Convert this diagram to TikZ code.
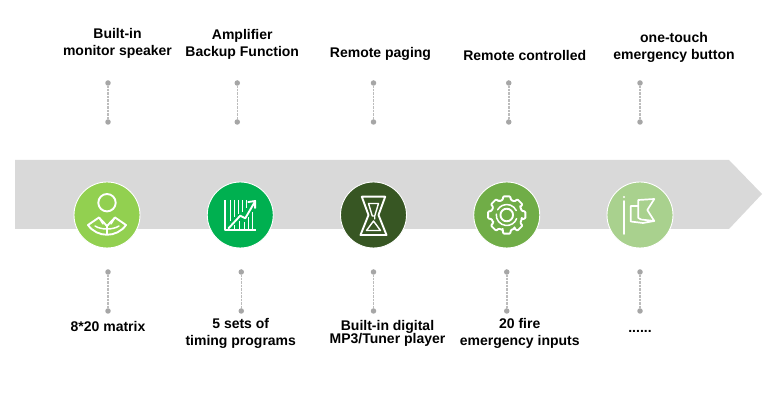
\documentclass[tikz,border=0pt]{standalone}
\usepackage{fontspec}
\setmainfont{Liberation Sans}
\usepackage{xcolor}
\usetikzlibrary{calc,arrows.meta,shapes}
\definecolor{bandgray}{HTML}{D9D9D9}
\definecolor{dotgray}{HTML}{A6A6A6}
\definecolor{limegreen}{HTML}{92D050}
\definecolor{puregreen}{HTML}{00B050}
\definecolor{darkgreen}{HTML}{375623}
\definecolor{midgreen}{HTML}{70AD47}
\definecolor{palegreen}{HTML}{A9D18E}

\begin{document}
\begin{tikzpicture}[
    x=1pt, y=1pt,
    node distance=133.25pt,
    hub/.style={circle, draw=white, line width=0.9pt, minimum size=66pt, inner sep=0pt},
    pin/.style={circle, fill=dotgray, minimum size=5.5pt, inner sep=0pt},
    stem/.style={dotgray!75, line width=1.5pt, dash pattern=on 1pt off 0.4pt},
    caption/.style={align=center, inner sep=0pt, font=\fontsize{14}{17}\selectfont\bfseries},
    icon/.style={white, line width=1.9pt, line join=round, line cap=round}
]
\useasboundingbox (0,0) rectangle (780,407);

% Band
\fill[bandgray] (15,247) -- (729,247) -- (762,213) -- (729,178) -- (15,178) -- cycle;

% Hubs
\node[hub, fill=limegreen] (person) at (107,192) {};
\node[hub, fill=puregreen, right of=person] (chart) {};
\node[hub, fill=darkgreen, right of=chart] (glass) {};
\node[hub, fill=midgreen, right of=glass] (gear) {};
\node[hub, fill=palegreen, right of=gear] (flag) {};

% Upper pins
\node[pin, above of=person, node distance=93pt, xshift=1pt] (personlow) {};
\node[pin, above of=personlow, node distance=39pt] (personhigh) {};
\node[pin, above of=chart, node distance=93pt, xshift=-3pt] (chartlow) {};
\node[pin, above of=chartlow, node distance=39pt] (charthigh) {};
\node[pin, above of=glass, node distance=93pt] (glasslow) {};
\node[pin, above of=glasslow, node distance=39pt] (glasshigh) {};
\node[pin, above of=gear, node distance=93pt, xshift=2pt] (gearlow) {};
\node[pin, above of=gearlow, node distance=39pt] (gearhigh) {};
\node[pin, above of=flag, node distance=93pt] (flaglow) {};
\node[pin, above of=flaglow, node distance=39pt] (flaghigh) {};

% Lower pins
\node[pin, below of=person, node distance=57pt, xshift=1pt] (personup) {};
\node[pin, below of=personup, node distance=39pt] (persondown) {};
\node[pin, below of=chart, node distance=57pt, xshift=1pt] (chartup) {};
\node[pin, below of=chartup, node distance=39pt] (chartdown) {};
\node[pin, below of=glass, node distance=57pt] (glassup) {};
\node[pin, below of=glassup, node distance=39pt] (glassdown) {};
\node[pin, below of=gear, node distance=57pt] (gearup) {};
\node[pin, below of=gearup, node distance=39pt] (geardown) {};
\node[pin, below of=flag, node distance=57pt] (flagup) {};
\node[pin, below of=flagup, node distance=39pt] (flagdown) {};

% Stems
\draw[stem] (personhigh) -- (personlow);
\draw[stem] (charthigh) -- (chartlow);
\draw[stem] (glasshigh) -- (glasslow);
\draw[stem] (gearhigh) -- (gearlow);
\draw[stem] (flaghigh) -- (flaglow);
\draw[stem] (personup) -- (persondown);
\draw[stem] (chartup) -- (chartdown);
\draw[stem] (glassup) -- (glassdown);
\draw[stem] (gearup) -- (geardown);
\draw[stem] (flagup) -- (flagdown);

% Captions
\node[caption, above of=personhigh, node distance=40pt, xshift=9.5pt] (speaker) {Built-in\\monitor speaker};
\node[caption, above of=charthigh, node distance=39pt, xshift=5pt] (backup) {Amplifier\\Backup Function};
\node[caption, above of=glasshigh, node distance=29pt, xshift=7pt] (paging) {Remote paging};
\node[caption, above of=gearhigh, node distance=27pt, xshift=16pt] (controlled) {Remote controlled};
\node[caption, above of=flaghigh, node distance=35.5pt, xshift=34pt] (button) {one-touch\\emergency button};
\node[caption, below of=persondown, node distance=15.5pt] (matrix) {8*20 matrix};
\node[caption, below of=chartdown, node distance=22.5pt, xshift=-0.5pt] (timing) {5 sets of\\timing programs};
\node[caption, below of=glassdown, node distance=22.5pt, xshift=14pt] (player) {Built-in digital\\[-4pt]MP3/Tuner player};
\node[caption, below of=geardown, node distance=22pt, xshift=13pt] (inputs) {20 fire\\emergency inputs};
\node[caption, below of=flagdown, node distance=20pt] (dots) {......};

% Person icon
\begin{scope}[shift={(person.center)}, icon]
\draw (0,12.3) circle (8.7);
\draw (-19,-10) -- (-8,-2.5) -- (0,-11) -- (8,-2.5) -- (19,-10) .. controls (10,-23) and (-10,-23) .. cycle;
\draw[line width=1.5pt] (-8,-2.5) -- (-4,-9) (8,-2.5) -- (4,-9);
\draw[line width=1.5pt] (-12,-11) .. controls (-6,-15) and (6,-15) .. (12,-11);
\draw[line width=1.5pt] (0,-11) -- (0,-19);
\end{scope}

% Chart icon
\begin{scope}[shift={(chart.center)}, icon]
\draw[line cap=butt] (-15,15) -- (-15,-15) -- (15.7,-15);
\draw[line width=1.3pt, line cap=butt] (-10,15) -- (-10,-6) (-6,15) -- (-6,-2) (-2,15) -- (-2,1) (2,15) -- (2,3) (6,15) -- (6,7);
\draw[line width=1.3pt, line cap=butt] (-6,-10) -- (-6,-14) (-1,-6) -- (-1,-14) (4,-7) -- (4,-14) (8,-2) -- (8,-14) (12,3) -- (12,-14);
\draw (-11.7,-13.3) -- (0,-0.7) -- (5,-3.3) -- (14.3,12.7);
\draw (8,13) -- (15,14) -- (14.8,7);
\end{scope}

% Hourglass icon
\begin{scope}[shift={(glass.center)}, icon]
\draw (-11.7,18.3) -- (11.7,18.3) -- (5,0) -- (13,-20) -- (-13,-20) -- (-5,0) -- cycle;
\draw[line width=1.4pt] (-5,11.5) -- (5,11.5) -- (1.2,-1) -- (1.2,-4) -- (1.2,-1) -- (-1.2,-1) -- cycle;
\draw[line width=1.4pt] (-7,-15.5) -- (7,-15.5) -- (0,-6) -- cycle;
\end{scope}

% Gear icon
\begin{scope}[shift={(gear.center)}, icon]
\draw[rounded corners=1pt] (90-15:15.5) \foreach \a in {90,135,...,405} { -- ({\a-15}:15.5) -- ({\a-11}:19) -- ({\a+11}:19) -- ({\a+15}:15.5) arc[start angle={\a+15}, end angle={\a+30}, radius=15.5] } -- cycle;
\draw (0,0) circle (6.3);
\draw[line width=1.5pt] (25:10.5) arc[start angle=25, end angle=150, radius=10.5];
\draw[line width=1.5pt] (175:10.5) arc[start angle=175, end angle=340, radius=10.5];
\end{scope}

% Flag icon
\begin{scope}[shift={(flag.center)}, icon]
\draw (-16,14) -- (-16,-19);
\fill (-16,18) circle (1.1);
\draw[line width=1.7pt] (-1.7,9) -- (-9.3,9) -- (-9.3,-6.5) -- (3,-8) -- (14.3,-6) -- (7.3,5) -- (14.3,16) -- (-1.7,15) -- (-1.7,-3) -- (1,-4.5) -- (14.3,-6);
\end{scope}

\end{tikzpicture}
\end{document}
